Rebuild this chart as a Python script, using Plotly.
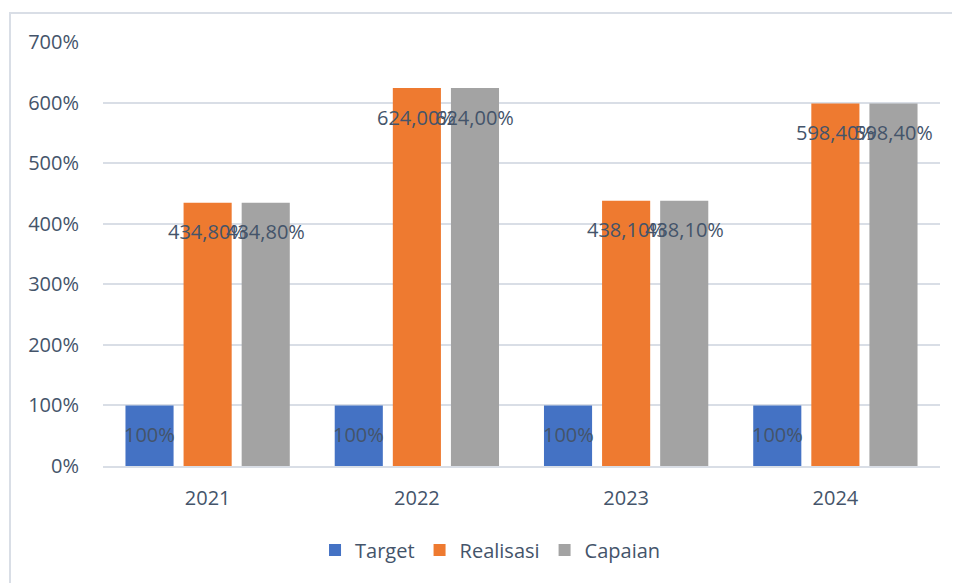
import plotly.graph_objects as go

years = ["2021", "2022", "2023", "2024"]
target = [100, 100, 100, 100]
realisasi = [434.8, 624.0, 438.1, 598.4]
capaian = [434.8, 624.0, 438.1, 598.4]
y_ticks = [0, 100, 200, 300, 400, 500, 600, 700]
y_tick_labels = ["0%", "100%", "200%", "300%", "400%", "500%", "600%", "700%"]

TEXT = "#44546A"
FONT = "Open Sans"
GRID = "#D9DEE6"

def fmt2(v):
    return f"{v:.2f}%".replace(".", ",")

# page body has an 8px default margin
W, H = 952, 575
L, T = 95, 34
pw, ph = 837, 424
R, B = W - L - pw, H - T - ph
BARGAP = 0.167
GROUPGAP = 0.172

series = [
    ("Target", target, "#4472C4", [f"{v:.0f}%" for v in target]),
    ("Realisasi", realisasi, "#EE7A30", [fmt2(v) for v in realisasi]),
    ("Capaian", capaian, "#A3A3A3", [fmt2(v) for v in capaian]),
]

fig = go.Figure()
cat_w = pw / len(years)
slot = cat_w * (1 - BARGAP) / len(series)
for i, (name, vals, color, txt) in enumerate(series):
    fig.add_trace(go.Bar(
        name=name, x=years, y=vals,
        marker=dict(color=color, line=dict(width=0)),
        hoverinfo="skip",
    ))
    shift = (i - (len(series) - 1) / 2) * slot
    for j, (v, t) in enumerate(zip(vals, txt)):
        # x as the category index on the category axis
        fig.add_annotation(x=j, y=v, xref="x", yref="y", text=t, showarrow=False,
                           xshift=shift, yshift=-29, yanchor="middle", xanchor="center",
                           font=dict(family=FONT, size=20, color=TEXT))

fig.add_shape(type="rect", xref="paper", yref="paper",
              x0=(2 - L) / pw, x1=(W + 10 - L) / pw,
              y0=-(H + 10 - T - ph) / ph, y1=(T + ph - 5) / ph,
              line=dict(color=GRID, width=2), fillcolor="rgba(0,0,0,0)", layer="below")

fig.update_layout(
    width=W, height=H,
    margin=dict(l=L, r=R, t=T, b=B, pad=0, autoexpand=False),
    paper_bgcolor="white", plot_bgcolor="white",
    barmode="group", bargap=BARGAP, bargroupgap=GROUPGAP,
    font=dict(family=FONT, color=TEXT, size=20),
    showlegend=True,
    legend=dict(orientation="h", x=0.463, xanchor="center", y=-0.198, yanchor="middle",
                font=dict(family=FONT, size=20, color=TEXT), traceorder="normal",
                itemwidth=30),
)
fig.update_xaxes(type="category", range=[-0.5, len(years) - 0.5],
                 showgrid=False, showline=True, linecolor=GRID, linewidth=2,
                 automargin=False, ticks="", tickfont=dict(family=FONT, size=20, color=TEXT),
                 ticklabelstandoff=13)
fig.update_yaxes(range=[0, 700], tickvals=y_ticks, ticktext=y_tick_labels,
                 showgrid=True, gridcolor=GRID, gridwidth=2, zeroline=False, automargin=False,
                 showline=False, ticks="", tickfont=dict(family=FONT, size=20, color=TEXT),
                 ticklabelstandoff=23)

fig.write_html("out.html")
